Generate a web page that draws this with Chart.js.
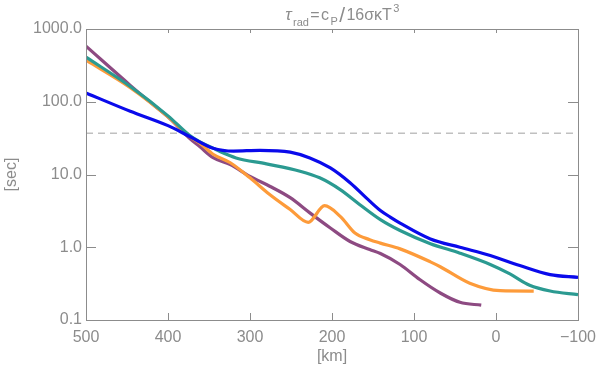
<!DOCTYPE html>
<html>
<head>
<meta charset="utf-8">
<script src="https://cdn.jsdelivr.net/npm/chart.js@4"></script>
<style>
  html, body { margin: 0; padding: 0; background: #fff; }
  #wrap { width: 600px; height: 366px; }
</style>
</head>
<body>
<div id="wrap"><canvas id="tauChart"></canvas></div>
<script>
// heights in km, radiative relaxation time in seconds
const kmBlue   = [500, 446, 400, 373, 345, 320, 288, 251, 227, 202, 178, 154, 141, 129, 117, 80, 44, 7, -29, -66, -100];
const secBlue  = [132, 74, 47, 33, 23, 21, 21.5, 20.3, 16.9, 12.3, 7.7, 4.3, 3.2, 2.6, 2.15, 1.3, 1.0, 0.77, 0.56, 0.42, 0.385];

const kmTeal   = [500, 446, 400, 373, 361, 345, 336, 317, 280, 239, 215, 190, 166, 141, 117, 80, 44, 7, -17, -41, -66, -100];
const secTeal  = [410, 162, 64, 34, 28, 23, 20.5, 16.9, 14, 11.1, 9, 6.2, 3.85, 2.4, 1.7, 1.12, 0.83, 0.58, 0.43, 0.3, 0.25, 0.223];

const kmOrange  = [500, 446, 400, 373, 361, 345, 324, 300, 276, 251, 229, 209, 190, 172, 154, 141, 117, 80, 68, 32, -5, -46];
const secOrange = [372, 156, 62, 33, 27, 19, 14.5, 9, 5.3, 3.3, 2.2, 3.73, 2.66, 1.57, 1.27, 1.14, 0.95, 0.63, 0.54, 0.32, 0.253, 0.25];

const kmPurple  = [500, 446, 426, 400, 373, 361, 345, 324, 300, 276, 251, 227, 202, 178, 154, 141, 117, 93, 68, 44, 18];
const secPurple = [580, 168, 108, 62, 31, 24, 17, 13.7, 9.4, 6.9, 4.8, 2.97, 1.84, 1.2, 0.93, 0.82, 0.58, 0.36, 0.235, 0.175, 0.16];

const refKm  = [500, -100];
const refSec = [37, 37];

const xTicks = [500, 400, 300, 200, 100, 0, -100];
const yTicks = [0.1, 1, 10, 100, 1000];

const grey = '#8c8c8c';
const font = 'Liberation Sans';

function pts(xs, ys) { return xs.map((x, i) => ({ x: x, y: ys[i] })); }

function line(label, xs, ys, color) {
    return {
        label: label, data: pts(xs, ys), borderColor: color, backgroundColor: color,
        borderWidth: 3.2, pointRadius: 0, cubicInterpolationMode: 'monotone', fill: false
    };
}

// axis box with inward ticks on all four sides, IDL style
const boxPlugin = {
    id: 'box',
    afterDatasetsDraw(chart) {
        const { ctx, chartArea: a, scales } = chart;
        ctx.save();
        ctx.strokeStyle = grey;
        ctx.lineWidth = 1;
        ctx.strokeRect(a.left + 0.5, a.top + 0.5, a.right - a.left, a.bottom - a.top);
        ctx.beginPath();
        scales.x.ticks.forEach(t => {
            const px = Math.round(scales.x.getPixelForValue(t.value)) + 0.5;
            ctx.moveTo(px, a.bottom); ctx.lineTo(px, a.bottom - 7);
            ctx.moveTo(px, a.top); ctx.lineTo(px, a.top + 4);
        });
        scales.y.ticks.forEach(t => {
            const py = Math.round(scales.y.getPixelForValue(t.value)) + 0.5;
            ctx.moveTo(a.left, py); ctx.lineTo(a.left + 10, py);
            ctx.moveTo(a.right, py); ctx.lineTo(a.right - 10, py);
        });
        ctx.stroke();
        ctx.restore();
    }
};

// title with sub/superscripts: tau_rad = c_P / 16 sigma kappa T^3
const titlePlugin = {
    id: 'tauTitle',
    afterDraw(chart) {
        const { ctx, chartArea: a } = chart;
        const parts = [
            { t: '\u03C4', s: 17, dy: 0, it: true },
            { t: 'rad', s: 11, dy: 6 },
            { t: '=', s: 16, dy: 0 },
            { t: 'c', s: 16, dy: 0 },
            { t: 'P', s: 11, dy: 5 },
            { t: '/', s: 21, dy: 2 },
            { t: '16\u03C3\u03BAT', s: 16, dy: 0 },
            { t: '3', s: 11, dy: -8 }
        ];
        ctx.save();
        ctx.fillStyle = grey;
        ctx.textBaseline = 'alphabetic';
        let w = 0;
        parts.forEach(p => {
            ctx.font = (p.it ? 'italic ' : '') + p.s + 'px "' + font + '"';
            p.w = ctx.measureText(p.t).width + 1.4;
            w += p.w;
        });
        let x = (a.left + a.right) / 2 - w / 2 + 11;
        const base = 20;
        parts.forEach(p => {
            ctx.font = (p.it ? 'italic ' : '') + p.s + 'px "' + font + '"';
            ctx.fillText(p.t, x, base + p.dy);
            x += p.w;
        });
        ctx.restore();
    }
};

const ctx = document.getElementById('tauChart').getContext('2d');
new Chart(ctx, {
    type: 'line',
    data: {
        datasets: [
            line('blue', kmBlue, secBlue, '#0a0aeb'),
            line('teal', kmTeal, secTeal, '#2b9a91'),
            line('orange', kmOrange, secOrange, '#fd9b3a'),
            line('purple', kmPurple, secPurple, '#8d4a82'),
            {
                label: 'ref', data: pts(refKm, refSec), borderColor: '#a0a0a0',
                borderWidth: 1, borderDash: [7, 5], pointRadius: 0, fill: false
            }
        ]
    },
    options: {
        responsive: true,
        maintainAspectRatio: false,
        animation: false,
        layout: { padding: { left: 0, right: 22, top: 29, bottom: 0 } },
        plugins: { legend: { display: false }, tooltip: { enabled: false }, title: { display: false } },
        scales: {
            x: {
                type: 'linear', reverse: true, min: -100, max: 500,
                grid: { display: false, drawTicks: false }, border: { display: false },
                afterBuildTicks: s => { s.ticks = xTicks.map(v => ({ value: v })); },
                afterFit: s => { s.height = 46; s.paddingLeft = 0; s.paddingRight = 0; },
                ticks: { color: grey, padding: 8, font: { family: font, size: 16 }, callback: v => v < 0 ? '\u2212' + Math.abs(v) : String(v) },
                title: { display: true, text: '[km]', color: grey, font: { family: font, size: 16 }, padding: { top: 0, bottom: 0 } }
            },
            y: {
                type: 'logarithmic', min: 0.1, max: 1000,
                grid: { display: false, drawTicks: false }, border: { display: false },
                afterBuildTicks: s => { s.ticks = yTicks.map(v => ({ value: v })); },
                afterFit: s => { s.width = 86; s.paddingTop = 0; s.paddingBottom = 0; },
                ticks: { color: grey, padding: 4, font: { family: font, size: 16 }, callback: v => Number(v).toFixed(1) },
                title: { display: true, text: '[sec]', color: grey, font: { family: font, size: 16 }, padding: { top: 2, bottom: 0 } }
            }
        }
    },
    plugins: [boxPlugin, titlePlugin]
});
</script>
</body>
</html>
